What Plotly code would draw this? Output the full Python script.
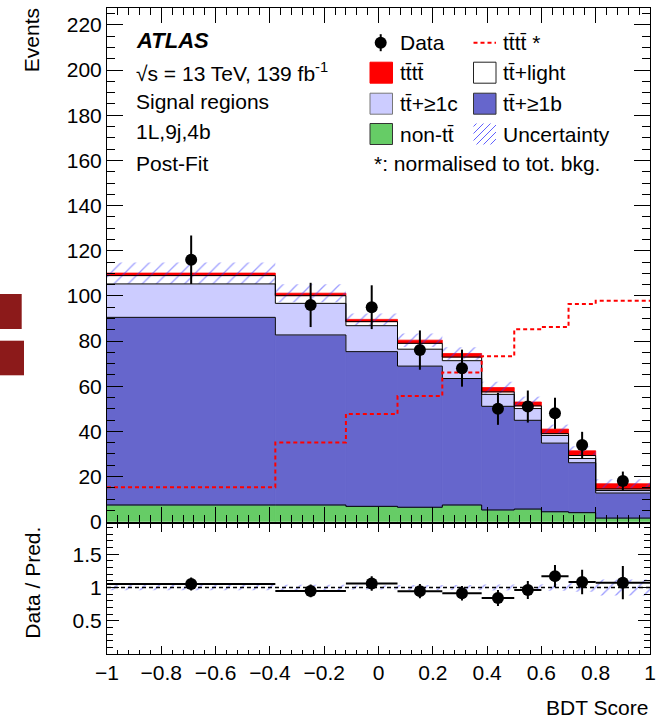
import plotly.graph_objects as go

# ---------------- data ----------------
edges = [-1.0, -0.38, -0.12, 0.07, 0.235, 0.38, 0.5, 0.6, 0.7, 0.8, 1.0]
non_tt = [7.4, 7.4, 6.8, 6.4, 7.4, 5.2, 5.6, 4.4, 4.0, 1.6]
tt_1b = [83.1, 75.3, 68.5, 62.5, 56.0, 45.9, 39.3, 30.4, 22.1, 11.1]
tt_1c = [14.8, 14.0, 11.5, 7.5, 7.9, 5.3, 5.2, 3.4, 1.9, 1.1]
tt_light = [3.7, 3.4, 1.8, 2.6, 1.6, 1.1, 1.2, 0.8, 1.3, 0.7]
tttt = [1.1, 1.1, 1.0, 1.4, 1.6, 1.9, 1.7, 2.0, 2.1, 2.3]
unc = [4.7, 4.0, 2.6, 3.0, 2.8, 2.6, 2.4, 2.0, 2.0, 2.0]
tttt_norm = [15.3, 35.1, 47.7, 55.7, 66.1, 73.3, 85.2, 86.2, 96.4, 97.8]
data = [116, 96, 95, 76, 68, 50, 51, 48, 34, 18]
data_err = [10.7, 9.8, 9.7, 8.7, 8.2, 7.1, 7.1, 6.9, 5.8, 4.2]

x_ticks_main = dict(dtick=0.2, tick0=-1)
y_ticks_main = dict(dtick=20, tick0=0)
ratio_tickvals = [0.5, 1, 1.5]
ratio_ticktext = ["0.5", "1", "1.5"]

# ---------------- colours ----------------
C_GREEN = "#66cc66"
C_BLUE = "#6666cc"
C_LIGHT = "#ccccff"
C_WHITE = "#ffffff"
C_RED = "#ff0000"
C_HATCH = "#3a3aff"
FONT = "Liberation Sans, Arial, sans-serif"

W, H = 666, 721
ML, MR, MT, MB = 107, 16, 8, 67
PW, PH = W - ML - MR, H - MT - MB


def px_x(p):
    return (p - ML) / PW


def px_y(p):
    return (H - MB - p) / PH


centers = [(a + b) / 2 for a, b in zip(edges[:-1], edges[1:])]
widths = [b - a for a, b in zip(edges[:-1], edges[1:])]
half_w = [w / 2 for w in widths]

components = [
    (non_tt, C_GREEN),
    (tt_1b, C_BLUE),
    (tt_1c, C_LIGHT),
    (tt_light, C_WHITE),
    (tttt, C_RED),
]

HATCH = dict(shape="/", fgcolor=C_HATCH, bgcolor="rgba(0,0,0,0)", size=10, solidity=0.13)

fig = go.Figure()

base = [0.0] * len(centers)
tops = []
for vals, col in components:
    fig.add_trace(go.Bar(
        x=centers, y=vals, base=base, width=widths,
        marker=dict(color=col, line=dict(width=0.8, color=col)), opacity=1,
        xaxis="x", yaxis="y", showlegend=False, hoverinfo="skip"))
    base = [b + v for b, v in zip(base, vals)]
    tops.append(list(base))

total = tops[-1]

# uncertainty hatch (main)
fig.add_trace(go.Bar(
    x=centers, y=[2 * u for u in unc], base=[t - u for t, u in zip(total, unc)],
    width=widths, opacity=1,
    marker=dict(color="rgba(0,0,0,0)", line=dict(width=0), pattern=HATCH),
    xaxis="x", yaxis="y", showlegend=False, hoverinfo="skip"))

# step outlines (top of non-tt, 1b, 1c, light)
for lvl in tops[:4]:
    fig.add_trace(go.Scatter(
        x=edges, y=lvl + [lvl[-1]], mode="lines", line_shape="hv",
        line=dict(color="black", width=1), xaxis="x", yaxis="y",
        showlegend=False, hoverinfo="skip"))

# tttt normalised dashed
fig.add_trace(go.Scatter(
    x=edges, y=tttt_norm + [tttt_norm[-1]], mode="lines", line_shape="hv",
    line=dict(color=C_RED, width=2, dash="4px,3px"), xaxis="x", yaxis="y",
    showlegend=False, hoverinfo="skip"))

# data
fig.add_trace(go.Scatter(
    x=centers, y=data, mode="markers",
    marker=dict(color="black", size=12),
    error_y=dict(type="data", array=data_err, color="black", thickness=2, width=0),
    xaxis="x", yaxis="y", showlegend=False, hoverinfo="skip"))

# ---------------- ratio panel ----------------
r_unc = [u / t for u, t in zip(unc, total)]
fig.add_trace(go.Bar(
    x=centers, y=[2 * r for r in r_unc], base=[1 - r for r in r_unc],
    width=widths, opacity=1,
    marker=dict(color="rgba(0,0,0,0)", line=dict(width=0), pattern=HATCH),
    xaxis="x2", yaxis="y2", showlegend=False, hoverinfo="skip"))

fig.add_trace(go.Scatter(
    x=[edges[0], edges[-1]], y=[1, 1], mode="lines",
    line=dict(color="black", width=1.5, dash="4px,3px"),
    xaxis="x2", yaxis="y2", showlegend=False, hoverinfo="skip"))

ratio = [d / t for d, t in zip(data, total)]
ratio_err = [e / t for e, t in zip(data_err, total)]
fig.add_trace(go.Scatter(
    x=centers, y=ratio, mode="markers",
    marker=dict(color="black", size=12),
    error_y=dict(type="data", array=ratio_err, color="black", thickness=2, width=0),
    error_x=dict(type="data", array=half_w, color="black", thickness=2, width=0),
    xaxis="x2", yaxis="y2", showlegend=False, hoverinfo="skip"))

# ---------------- axes ----------------
common = dict(showgrid=False, zeroline=False, showline=True, linecolor="black",
              linewidth=1, mirror="ticks", ticks="inside", tickcolor="black",
              tickwidth=1, tickfont=dict(family=FONT, size=21, color="black"))

fig.update_layout(
    width=W, height=H,
    margin=dict(l=ML, r=MR, t=MT, b=MB, pad=0),
    paper_bgcolor="white", plot_bgcolor="white",
    barmode="overlay", showlegend=False,
    font=dict(family=FONT, size=21, color="black"),
    xaxis=dict(domain=[0, 1], anchor="y", range=[-1, 1], showticklabels=False,
               ticklen=15, minor=dict(ticks="inside", ticklen=7, dtick=0.04, tick0=-1,
                                      tickcolor="black", showgrid=False),
               **x_ticks_main, **common),
    xaxis2=dict(domain=[0, 1], anchor="y2", range=[-1, 1], matches="x",
                ticklen=8, minor=dict(ticks="inside", ticklen=4, dtick=0.04, tick0=-1,
                                      tickcolor="black", showgrid=False),
                ticklabelstandoff=0,
                **x_ticks_main, **common),
    yaxis=dict(domain=[px_y(521.7), 1], anchor="x", range=[0, 227.5],
               ticklen=16, minor=dict(ticks="inside", ticklen=8, dtick=5, tick0=0,
                                      tickcolor="black", showgrid=False),
               **y_ticks_main, **common),
    yaxis2=dict(domain=[0, px_y(524.3)], anchor="x2", range=[0, 1.95],
                tickmode="array", tickvals=ratio_tickvals, ticktext=ratio_ticktext,
                ticklen=12, minor=dict(ticks="inside", ticklen=6, tickmode="linear",
                                       dtick=0.1, tick0=0, tickcolor="black",
                                       showgrid=False),
                **common),
)

# ---------------- texts ----------------
ann = []


def text(s, xp, yp, size=21, xanchor="left", yanchor="middle", angle=0):
    ann.append(dict(text=s, x=px_x(xp), y=px_y(yp), xref="paper", yref="paper",
                    xanchor=xanchor, yanchor=yanchor, showarrow=False, textangle=angle,
                    font=dict(family=FONT, size=size, color="black")))


text("<b><i>ATLAS</i></b>", 134, 40, size=22)
text("√s = 13 TeV, 139 fb<sup>-1</sup>", 134, 71.7)
text("Signal regions", 134, 101.7)
text("1L,9j,4b", 134, 131.7)
text("Post-Fit", 134, 163.3)

text("Events", 31.7, 40.5, xanchor="center", angle=-90)
text("Data / Pred.", 31.7, 583, xanchor="center", angle=-90)
text("BDT Score", 650, 707.7, xanchor="right")

TT = "tt\u0304"
rows = [42.7, 72.7, 103.7, 134.0, 163.3]
LX_BOX, RX_BOX = 370.0, 473.5
LX_TXT, RX_TXT = 397.5, 501.0
text("Data", 398.3, rows[0])
text(TT + TT + " *", RX_TXT, rows[0])
text(TT + TT, LX_TXT, rows[1])
text(TT + "+light", RX_TXT, rows[1])
text(TT + "+≥1c", LX_TXT, rows[2])
text(TT + "+≥1b", RX_TXT, rows[2])
text("non-" + TT, LX_TXT, rows[3])
text("Uncertainty", RX_TXT, rows[3])
text("*: normalised to tot. bkg.", 371.7, rows[4])

shapes = []


def rect(x0, y0, x1, y1, fill, line="black", lw=1):
    shapes.append(dict(type="rect", xref="paper", yref="paper",
                       x0=px_x(x0), x1=px_x(x1), y0=px_y(y0), y1=px_y(y1),
                       fillcolor=fill, line=dict(color=line, width=lw)))


def seg(x0, y0, x1, y1, color="black", lw=1, dash=None):
    d = dict(type="line", xref="paper", yref="paper",
             x0=px_x(x0), x1=px_x(x1), y0=px_y(y0), y1=px_y(y1),
             line=dict(color=color, width=lw))
    if dash:
        d["line"]["dash"] = dash
    shapes.append(d)


BW, BH = 22.5, 21
# legend boxes
rect(LX_BOX, rows[1] - BH / 2, LX_BOX + BW, rows[1] + BH / 2, C_RED, line=C_RED)
rect(RX_BOX, rows[1] - BH / 2, RX_BOX + BW, rows[1] + BH / 2, C_WHITE, line="#222222")
rect(LX_BOX, rows[2] - BH / 2, LX_BOX + BW, rows[2] + BH / 2, C_LIGHT, line="#777777")
rect(RX_BOX, rows[2] - BH / 2, RX_BOX + BW, rows[2] + BH / 2, C_BLUE, line="#333333")
rect(LX_BOX, rows[3] - BH / 2, LX_BOX + BW, rows[3] + BH / 2, C_GREEN, line="#333333")

# data legend marker
cx, cy, r = 380.7, rows[0], 6
shapes.append(dict(type="circle", xref="paper", yref="paper",
                   x0=px_x(cx - r), x1=px_x(cx + r), y0=px_y(cy + r), y1=px_y(cy - r),
                   fillcolor="black", line=dict(color="black", width=0)))
seg(cx, cy - 8.5, cx, cy + 8.5, lw=2)

# tttt* dashed legend line
seg(RX_BOX, rows[0], RX_BOX + BW, rows[0], color=C_RED, lw=2, dash="4px,3px")

# uncertainty legend hatch
hx0, hx1 = RX_BOX, RX_BOX + BW
hy_top, hy_bot = rows[3] - BH / 2, rows[3] + BH / 2
hh = hy_bot - hy_top
c = hx0 - hh + 3
while c < hx1:
    xa, ya = c, hy_bot
    xb, yb = c + hh, hy_top
    if xa < hx0:
        ya = hy_bot - (hx0 - xa)
        xa = hx0
    if xb > hx1:
        yb = hy_top + (xb - hx1)
        xb = hx1
    if xb > xa:
        seg(xa, ya, xb, yb, color="#6060ff", lw=1)
    c += 7

# stray dark-red squares at the left edge of the picture
rect(0, 294, 21.7, 329, "#8c1a1a", line="#8c1a1a", lw=0)
rect(0, 340.7, 24, 375.3, "#8c1a1a", line="#8c1a1a", lw=0)

fig.update_layout(annotations=ann, shapes=shapes)

fig.write_html("out.html")
